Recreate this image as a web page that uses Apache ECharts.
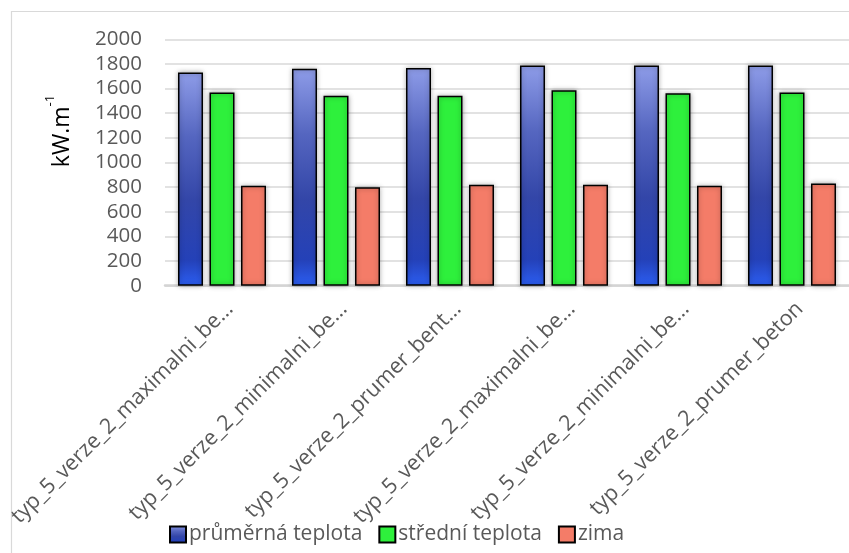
<!DOCTYPE html>
<html>
<head>
<meta charset="utf-8">
<script src="https://cdn.jsdelivr.net/npm/echarts@6/dist/echarts.min.js"></script>
<style>
html,body{margin:0;padding:0;background:#fff;}
#chart{width:849px;height:553px;}
</style>
</head>
<body>
<div id="chart"></div>
<script>
const categories = [
  'typ_5_verze_2_maximalni_be…',
  'typ_5_verze_2_minimalni_be…',
  'typ_5_verze_2_prumer_bent…',
  'typ_5_verze_2_maximalni_be…',
  'typ_5_verze_2_minimalni_be…',
  'typ_5_verze_2_prumer_beton'
];
const seriesNames = ['průměrná teplota', 'střední teplota', 'zima'];
const prumernaTeplota = [1730, 1760, 1768, 1787, 1787, 1787];
const stredniTeplota = [1568, 1541, 1541, 1587, 1563, 1568];
const zima = [811, 800, 819, 819, 811, 830];
const yMin = 0, yMax = 2000, yStep = 200;

const font = '"Open Sans", "Noto Sans", sans-serif';
const textColor = '#595959';

const blueGrad = new echarts.graphic.LinearGradient(0, 0, 0, 1, [
  {offset: 0, color: '#8e9ce8'},
  {offset: 0.3, color: '#5566c0'},
  {offset: 0.6, color: '#3346a8'},
  {offset: 0.88, color: '#2441b8'},
  {offset: 1, color: '#2c5ef2'}
]);
const common = {
  type: 'bar',
  barWidth: 25,
  barGap: '26%',
  animation: false
};
function style(color) {
  return {
    color: color,
    borderColor: '#000',
    borderWidth: 1.5,
    shadowBlur: 5,
    shadowColor: 'rgba(0,0,0,0.35)'
  };
}

const chart = echarts.init(document.getElementById('chart'), null, {renderer: 'canvas'});
chart.setOption({
  animation: false,
  backgroundColor: '#fff',
  grid: {left: 165, top: 39.3, height: 246.4, right: -3, containLabel: false},
  xAxis: {
    type: 'category',
    data: categories,
    axisTick: {show: false},
    axisLine: {lineStyle: {color: '#d4d4d4', width: 2.5}},
    axisLabel: {
      rotate: 45,
      interval: 0,
      margin: 12,
      verticalAlign: 'top',
      align: 'right',
      fontFamily: font,
      fontSize: 21.5,
      color: textColor
    }
  },
  yAxis: {
    type: 'value',
    min: yMin, max: yMax, interval: yStep,
    axisLine: {show: false},
    axisTick: {show: false},
    splitLine: {lineStyle: {color: '#d9d9d9', width: 1.5}},
    axisLabel: {
      margin: 23, fontFamily: font, fontSize: 20.5, color: textColor,
      formatter: function (v) { return String(v); }
    }
  },
  legend: {
    left: 164,
    top: 519,
    itemWidth: 16,
    itemHeight: 16,
    itemGap: 16,
    icon: 'rect',
    textStyle: {fontFamily: font, fontSize: 21, color: textColor, padding: [0, 0, 0, -2]},
    data: seriesNames
  },
  graphic: [
    {
      type: 'rect',
      silent: true,
      shape: {x: 11.5, y: 11.5, width: 900, height: 700},
      style: {fill: 'none', stroke: '#d9d9d9', lineWidth: 1.2}
    },
    {
      type: 'text',
      silent: true,
      x: 59,
      y: 131,
      rotation: Math.PI / 2,
      style: {
        text: '{a|kW.m}{b|-1}',
        align: 'center',
        verticalAlign: 'middle',
        rich: {
          a: {fontFamily: font, fontSize: 23, color: textColor, lineHeight: 30, verticalAlign: 'bottom'},
          b: {fontFamily: font, fontSize: 13, color: textColor, lineHeight: 30, verticalAlign: 'top'}
        }
      }
    }
  ],
  series: [
    Object.assign({}, common, {name: seriesNames[0], data: prumernaTeplota, itemStyle: style(blueGrad)}),
    Object.assign({}, common, {name: seriesNames[1], data: stredniTeplota, itemStyle: style('#2ef03c')}),
    Object.assign({}, common, {name: seriesNames[2], data: zima, itemStyle: style('#f47c68')})
  ]
});
</script>
</body>
</html>
